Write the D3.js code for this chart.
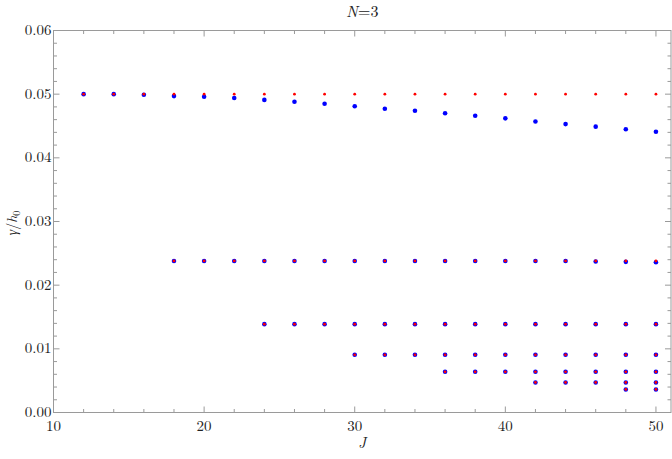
<!DOCTYPE html>
<html>
<head>
<meta charset="utf-8">
<script src="https://cdn.jsdelivr.net/npm/d3@7"></script>
<style>
  body { margin: 0; background: #fff; }
  svg { display: block; }
  text { font-family: "Latin Modern Roman", "CMU Serif", "Liberation Serif", "DejaVu Serif", serif; fill: #222; }
</style>
</head>
<body>
<svg id="chart" width="672" height="459"></svg>
<script>
// ---- data ----
const Jvals = [12,14,16,18,20,22,24,26,28,30,32,34,36,38,40,42,44,46,48,50];
// top branch (blue, exact) and approximate (red) value
const blueTop = [0.0500,0.0500,0.0499,0.0497,0.0496,0.0494,0.0491,0.0488,0.0485,0.0481,0.0477,0.0474,0.0470,0.0466,0.0462,0.0457,0.0453,0.0449,0.0445,0.0441];
const redTop  = [0.0500,0.0500,0.0500,0.0500,0.0500,0.0500,0.0500,0.0500,0.0500,0.0500,0.0500,0.0500,0.0500,0.0500,0.0500,0.0500,0.0500,0.0500,0.0500,0.0500];
// lower levels: [level value, starting J]
const levelValues = [0.0238, 0.01388, 0.00906, 0.00639, 0.00472, 0.00362];
const levelStartJ = [18, 24, 30, 36, 42, 48];
// small deviations of blue on level 0.0238 at large J
const blueLevel2Offset = {46: -0.00008, 48: -0.00014, 50: -0.0002};
const xTicks = [10,20,30,40,50];
const yTicks = [0.00,0.01,0.02,0.03,0.04,0.05,0.06];

// ---- build point lists ----
const bluePts = [], redPts = [];
Jvals.forEach((j,i) => { bluePts.push({x:j,y:blueTop[i]}); redPts.push({x:j,y:redTop[i]}); });
levelValues.forEach((v,k) => {
  Jvals.filter(j => j >= levelStartJ[k]).forEach(j => {
    const off = (k === 0 && blueLevel2Offset[j]) ? blueLevel2Offset[j] : 0;
    bluePts.push({x:j,y:v+off});
    redPts.push({x:j,y:v});
  });
});

// ---- layout ----
const svg = d3.select("#chart");
const L = 53.5, R = 671, T = 30.5, B = 412.5;
const x = d3.scaleLinear().domain([10, 51]).range([L, R]);
const y = d3.scaleLinear().domain([0, 0.06]).range([B, T]);

const frameColor = "#9a9a9a";
const minorX = d3.range(10, 51.01, 2);
const minorY = d3.range(0, 0.0601, 0.002);

const g = svg.append("g");
function isMajorX(d) { return Math.abs(d % 10) < 1e-9; }
function isMajorY(d) { return Math.abs(d*100 - Math.round(d*100)) < 1e-6; }

// ticks (inward) on all four sides
g.append("g").selectAll("line").data(minorX).join("line")
  .attr("x1", d => x(d)).attr("x2", d => x(d)).attr("y1", B).attr("y2", d => B - (isMajorX(d) ? 6 : 3.5))
  .attr("stroke", frameColor);
g.append("g").selectAll("line").data(minorX).join("line")
  .attr("x1", d => x(d)).attr("x2", d => x(d)).attr("y1", T).attr("y2", d => T + (isMajorX(d) ? 6 : 3.5))
  .attr("stroke", frameColor);
g.append("g").selectAll("line").data(minorY).join("line")
  .attr("y1", d => y(d)).attr("y2", d => y(d)).attr("x1", L).attr("x2", d => L + (isMajorY(d) ? 6 : 3.5))
  .attr("stroke", frameColor);
g.append("g").selectAll("line").data(minorY).join("line")
  .attr("y1", d => y(d)).attr("y2", d => y(d)).attr("x1", R).attr("x2", d => R - (isMajorY(d) ? 6 : 3.5))
  .attr("stroke", frameColor);

// frame
g.append("rect").attr("x", L).attr("y", T).attr("width", R - L).attr("height", B - T)
  .attr("fill", "none").attr("stroke", frameColor).attr("stroke-width", 1);

// tick labels
g.selectAll(".xl").data(xTicks).join("text").attr("class","xl")
  .attr("x", d => x(d)).attr("y", B + 18).attr("text-anchor","middle")
  .attr("font-size", 15).text(d => d);
g.selectAll(".yl").data(yTicks).join("text").attr("class","yl")
  .attr("x", L - 2).attr("y", d => y(d) + 4.5).attr("text-anchor","end")
  .attr("font-size", 15).text(d => d3.format(".2f")(d));

// titles
svg.append("text").attr("x", (L+R)/2).attr("y", 17).attr("text-anchor","middle").attr("font-size", 16)
  .html('<tspan font-style="italic">N</tspan>=3');
svg.append("text").attr("x", (L+R)/2).attr("y", 448).attr("text-anchor","middle").attr("font-size", 15)
  .attr("font-style","italic").text("J");
svg.append("text").attr("transform", "translate(17,223) rotate(-90)").attr("text-anchor","middle").attr("font-size", 14)
  .html('<tspan font-style="italic">γ</tspan>/<tspan font-style="italic">h</tspan><tspan font-size="10" dy="3">0</tspan>');

// points
const pts = svg.append("g");
pts.selectAll(".b").data(bluePts).join("circle").attr("class","b")
  .attr("cx", d => x(d.x)).attr("cy", d => y(d.y)).attr("r", 2.3).attr("fill", "#0000ff");
pts.selectAll(".r").data(redPts).join("circle").attr("class","r")
  .attr("cx", d => x(d.x)).attr("cy", d => y(d.y)).attr("r", 1.4).attr("fill", "#ff0000");
</script>
</body>
</html>
